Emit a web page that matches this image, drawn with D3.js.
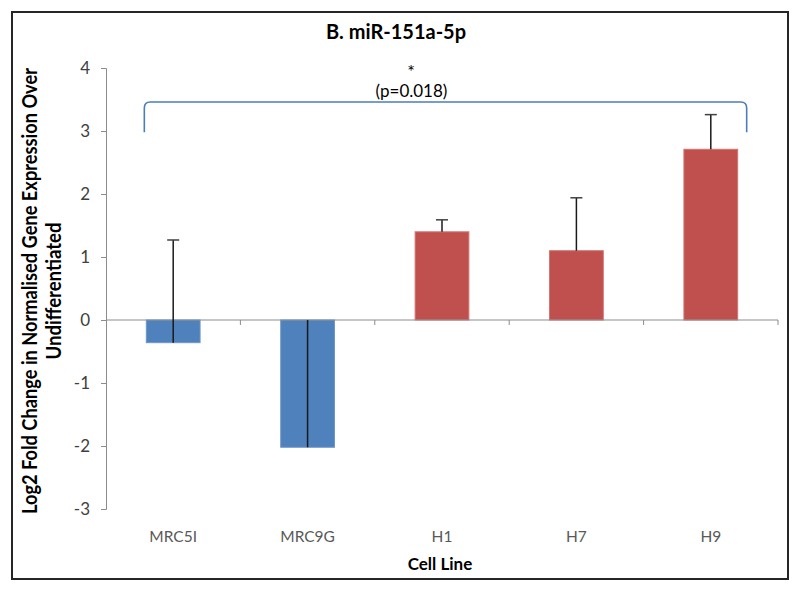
<!DOCTYPE html>
<html>
<head>
<meta charset="utf-8">
<script src="https://cdn.jsdelivr.net/npm/d3@7"></script>
<style>
body{margin:0;background:#fff;}
svg{display:block;}
text{font-family:Lato,"Open Sans",sans-serif;}
</style>
</head>
<body>
<svg id="chart" width="800" height="591"></svg>
<script>
const categories = ["MRC5I","MRC9G","H1","H7","H9"];
const values = [-0.36, -2.02, 1.40, 1.10, 2.71];
const errorTops = [1.27, 0.0, 1.59, 1.94, 3.26];
const groups = ["control","control","hesc","hesc","hesc"];
const yTicks = [-3,-2,-1,0,1,2,3,4];
const colors = {control:"#4f81bd", hesc:"#c0504d"};
const borders = {control:"#6d96c9", hesc:"#d07471"};
const bracketLevel = 3.46, bracketFoot = 2.98;
const title = "B. miR-151a-5p";
const yLabel = ["Log2 Fold Change in Normalised Gene Expression Over","Undifferentiated"];
const xLabel = "Cell Line";
const pText = "(p=0.018)";

const svg = d3.select("#chart");
svg.append("rect").attr("x",12).attr("y",12).attr("width",776).attr("height",567)
  .attr("fill","#fff").attr("stroke","#262626").attr("stroke-width",2);

const x = d3.scaleBand().domain(categories).range([106,778]).paddingInner(0.6).paddingOuter(0.3);
const xb = d3.scaleBand().domain(categories).range([106,778]);
const y = d3.scaleLinear().domain([-3,4]).range([509,68]);

// y axis
const yAxis = svg.append("g").attr("transform","translate(106,0)")
  .call(d3.axisLeft(y).tickValues(yTicks).tickSize(5).tickPadding(11).tickFormat(d=>String(d)));
yAxis.select(".domain").attr("stroke","#8c8c8c");
yAxis.selectAll(".tick line").attr("stroke","#8c8c8c");
yAxis.selectAll("text").attr("fill","#404040").style("font-size","17px").style("font-family","Lato, sans-serif");

// bars
svg.append("g").selectAll("rect").data(categories).join("rect")
  .attr("x",d=>x(d)).attr("width",x.bandwidth())
  .attr("y",(d,i)=>y(Math.max(0,values[i])))
  .attr("height",(d,i)=>Math.abs(y(values[i])-y(0)))
  .attr("fill",(d,i)=>colors[groups[i]])
  .attr("stroke",(d,i)=>borders[groups[i]]).attr("stroke-width",1);

// x axis at zero
const xAxisG = svg.append("g");
xAxisG.append("line").attr("x1",106).attr("x2",778).attr("y1",y(0)).attr("y2",y(0)).attr("stroke","#8c8c8c");
xAxisG.selectAll("line.tk").data(categories).join("line").attr("class","tk")
  .attr("x1",d=>xb(d)+xb.bandwidth()).attr("x2",d=>xb(d)+xb.bandwidth())
  .attr("y1",y(0)).attr("y2",y(0)+5).attr("stroke","#8c8c8c");

// error bars
const eb = svg.append("g").attr("stroke","#1a1a1a").attr("stroke-width",1.5);
categories.forEach((c,i)=>{
  const cx = x(c)+x.bandwidth()/2;
  eb.append("line").attr("x1",cx).attr("x2",cx).attr("y1",y(values[i])).attr("y2",y(errorTops[i]));
  if (errorTops[i] > 0.05)
    eb.append("line").attr("x1",cx-6).attr("x2",cx+6).attr("y1",y(errorTops[i])).attr("y2",y(errorTops[i])).attr("stroke","#404040");
});

// category labels
svg.append("g").selectAll("text").data(categories).join("text")
  .attr("x",d=>xb(d)+xb.bandwidth()/2).attr("y",542).attr("text-anchor","middle")
  .attr("fill","#595959").style("font-size","15.5px").text(d=>d);

// bracket
const bx1 = x(categories[0]) - 2, bx2 = x(categories[4]) + x.bandwidth() + 9;
const by = y(bracketLevel), bf = y(bracketFoot);
svg.append("path")
  .attr("d",`M${bx1},${bf} L${bx1},${by+6} Q${bx1},${by} ${bx1+6},${by} L${bx2-6},${by} Q${bx2},${by} ${bx2},${by+6} L${bx2},${bf}`)
  .attr("fill","none").attr("stroke","#4a7ebb").attr("stroke-width",1.6);
svg.append("text").attr("x",411).attr("y",78).attr("text-anchor","middle").attr("fill","#000").style("font-size","18px").text("*");
svg.append("text").attr("x",411.5).attr("y",97).attr("text-anchor","middle").attr("fill","#000").style("font-size","17px").text(pText);

// title
svg.append("text").attr("x",396).attr("y",39).attr("text-anchor","middle").attr("fill","#000")
  .style("font-size","20px").style("font-weight","bold").text(title);

// axis titles
svg.append("text").attr("x",440).attr("y",570).attr("text-anchor","middle").attr("fill","#000")
  .style("font-size","17px").style("font-weight","bold").text(xLabel);
const yl = svg.append("text").attr("transform","translate(0,291) rotate(-90)").attr("text-anchor","middle")
  .attr("fill","#000").style("font-size","20px").style("font-weight","bold");
yl.append("tspan").attr("x",0).attr("y",37).attr("textLength",446).attr("lengthAdjust","spacingAndGlyphs").text(yLabel[0]);
yl.append("tspan").attr("x",0).attr("y",61).attr("textLength",137).attr("lengthAdjust","spacingAndGlyphs").text(yLabel[1]);
</script>
</body>
</html>
